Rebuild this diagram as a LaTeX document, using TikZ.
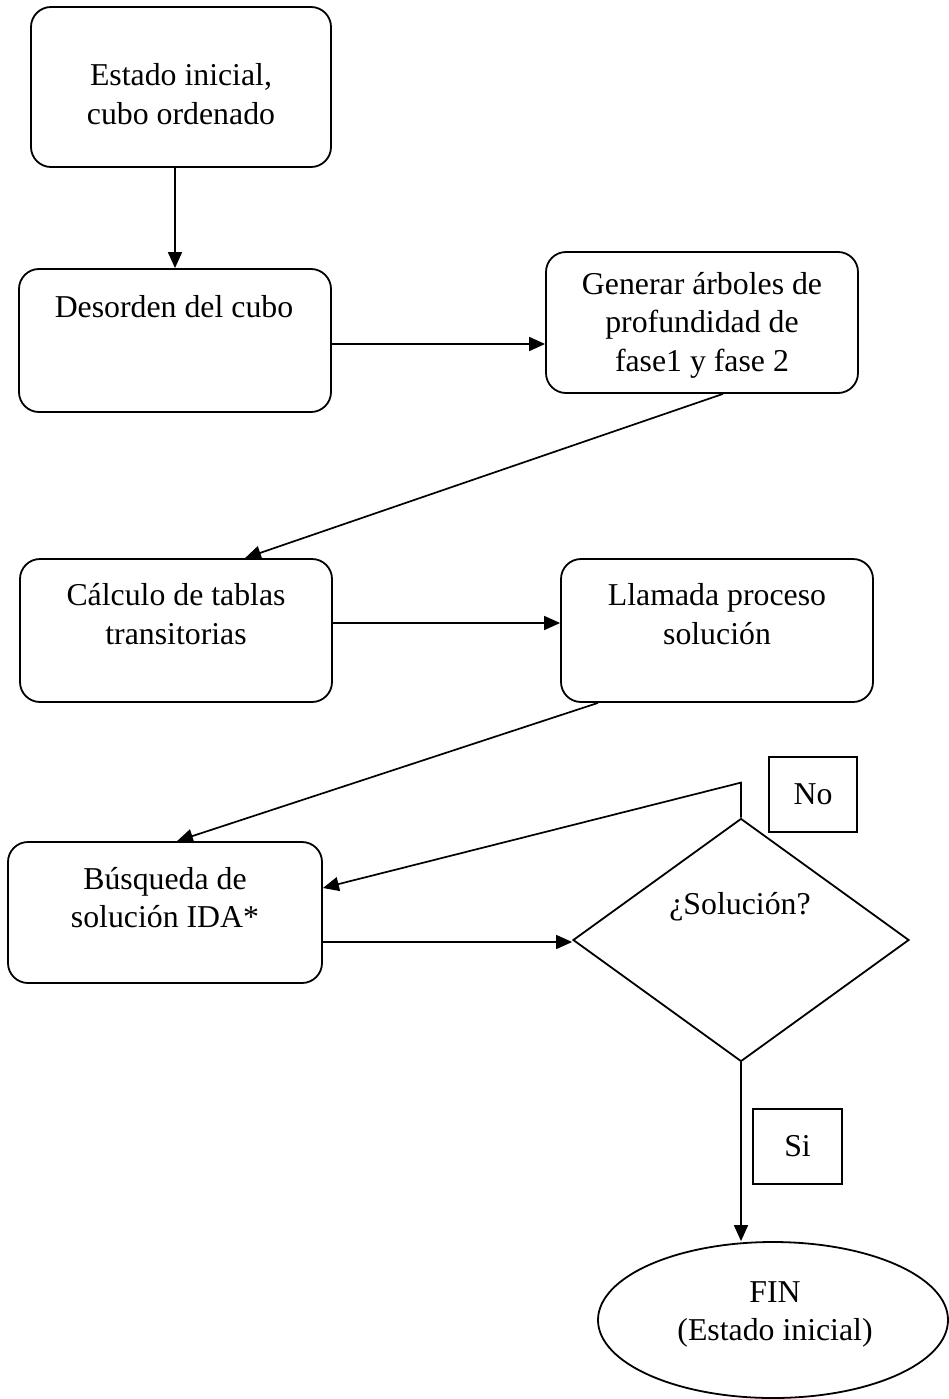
\documentclass[tikz,border=0pt]{standalone}
\usepackage{fontspec}
\setmainfont{Liberation Serif}
\usetikzlibrary{arrows.meta,shapes.geometric,calc}
\begin{document}
\begin{tikzpicture}[x=1pt,y=-1pt,
  every node/.style={font=\fontsize{31.8}{38.5}\selectfont},
  rbox/.style={draw, line width=1.8pt, rounded corners=20pt, inner sep=0pt},
  sbox/.style={draw, line width=1.8pt, inner sep=0pt},
  txt/.style={align=center, inner sep=0pt},
  conn/.style={line width=1.7pt},
  arr/.style={conn, -{Triangle[length=16pt,width=14pt]}}
]
\useasboundingbox (0,0) rectangle (948,1399);

% boxes
\node[rbox, minimum width=300pt, minimum height=160pt] (b1) at (181,87) {};
\node[txt] (t1) at (181,94) {Estado inicial,\\cubo ordenado};

\node[rbox, minimum width=312pt, minimum height=143pt] (b2) at (175,340.5) {};
\node[txt] (t2) at (174,307) {Desorden del cubo};

\node[rbox, minimum width=312pt, minimum height=141pt] (b3) at (702,322.5) {};
\node[txt] (t3) at (702,325) {Generar árboles de\\profundidad de\\fase1 y fase 2};

\node[rbox, minimum width=312pt, minimum height=143pt] (b4) at (176,630.5) {};
\node[txt] (t4) at (176,614) {Cálculo de tablas\\transitorias};

\node[rbox, minimum width=312pt, minimum height=143pt] (b5) at (717,630.5) {};
\node[txt] (t5) at (717,614) {Llamada proceso\\solución};

\node[rbox, minimum width=314pt, minimum height=141pt] (b6) at (165,912.5) {};
\node[txt] (t6) at (165,897.5) {Búsqueda de\\solución IDA*};

\node[draw, line width=1.8pt, shape=diamond, minimum width=336pt, minimum height=243pt, inner sep=0pt] (dia) at (741,940) {};
\node[txt] (td) at (740,907) {¿Solución?};

\node[sbox, minimum width=88pt, minimum height=75pt] (no) at (813,794.5) {No};
\node[sbox, minimum width=89pt, minimum height=75pt] (si) at (797.5,1146.5) {Si};

\node[draw, line width=1.8pt, shape=ellipse, minimum width=350pt, minimum height=156pt, inner sep=0pt] (fin) at (773,1320) {};
\node[txt] (tf) at (775,1314.5) {FIN\\(Estado inicial)};

% connectors
\draw[arr] (b1.south -| b2.north) -- (b2.north);
\draw[arr] ([yshift=-3.5pt]b2.east) coordinate (c1) -- (c1 -| b3.west);
\draw[arr] ([xshift=21pt]b3.south) -- ([xshift=69pt]b4.north);
\draw[arr] ([yshift=7.5pt]b4.east) coordinate (c2) -- (c2 -| b5.west);
\draw[arr] ([xshift=-119pt]b5.south) -- ([xshift=12pt]b6.north);
\draw[arr] ([yshift=-29.5pt]b6.east) coordinate (c3) -- (c3 -| dia.west);
\coordinate (nk) at ([yshift=35pt]dia.north);
\draw[arr] (dia.north) -- (nk) -- ([yshift=24.5pt]b6.east);
\draw[arr] (dia.south) -- (dia.south |- fin.north);
\end{tikzpicture}
\end{document}
